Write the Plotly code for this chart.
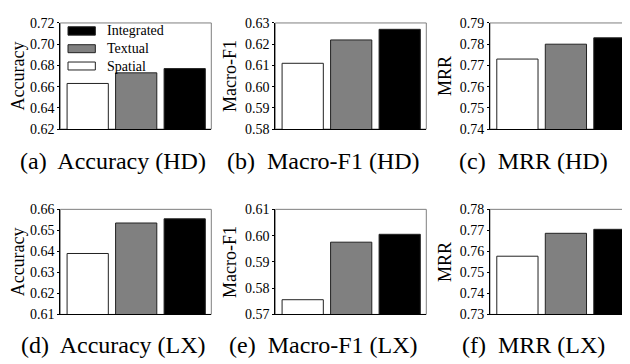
import plotly.graph_objects as go

methods = ["Spatial", "Textual", "Integrated"]
acc_hd = [0.663, 0.673, 0.677]
f1_hd = [0.611, 0.622, 0.627]
mrr_hd = [0.773, 0.780, 0.783]
acc_lx = [0.639, 0.6535, 0.6555]
f1_lx = [0.5756, 0.5975, 0.6005]
mrr_lx = [0.7577, 0.7686, 0.7705]

panels = [
    (acc_hd, "Accuracy", [0.62, 0.72], 0.02, "(a)  Accuracy (HD)"),
    (f1_hd, "Macro-F1", [0.58, 0.63], 0.01, "(b)  Macro-F1 (HD)"),
    (mrr_hd, "MRR", [0.74, 0.79], 0.01, "(c)  MRR (HD)"),
    (acc_lx, "Accuracy", [0.61, 0.66], 0.01, "(d)  Accuracy (LX)"),
    (f1_lx, "Macro-F1", [0.57, 0.61], 0.01, "(e)  Macro-F1 (LX)"),
    (mrr_lx, "MRR", [0.73, 0.78], 0.01, "(f)  MRR (LX)"),
]
colors = ["#ffffff", "#808080", "#000000"]

W, H = 630, 364
FONT = "Liberation Serif"
col_x = [(52.3, 203.3), (267.3, 418.3), (482.0, 630.0)]
row_y = [(8.3, 119.0), (202.7, 312.3)]
cap_y = [152.5, 344.0]
col_center = [105.0, 315.0, 525.0]
px_per_unit = 48.5
x0 = -0.565

fig = go.Figure()
layout = dict(
    width=W, height=H, margin=dict(l=0, r=0, t=0, b=0),
    paper_bgcolor="white", plot_bgcolor="white", showlegend=False,
    font=dict(family=FONT, color="black", size=13),
)
annotations = []
shapes = []

for i, (vals, title, yr, dt, cap) in enumerate(panels):
    r, c = divmod(i, 3)
    n = i + 1
    xs = "" if n == 1 else str(n)
    xl, xr = col_x[c]
    yt, yb = row_y[r]
    fig.add_trace(go.Bar(
        x=methods, y=vals, width=0.85,
        marker=dict(color=colors, line=dict(color="#222222", width=1)),
        xaxis="x" + xs, yaxis="y" + xs, name=title,
    ))
    layout["xaxis" + xs] = dict(
        domain=[xl / W, xr / W], anchor="y" + xs,
        range=[x0, x0 + (xr - xl) / px_per_unit],
        showticklabels=False, ticks="", showgrid=False, zeroline=False,
        showline=True, linecolor="black", linewidth=1,
        categoryorder="array", categoryarray=methods,
    )
    layout["yaxis" + xs] = dict(
        domain=[1 - yb / H, 1 - yt / H], anchor="x" + xs,
        range=yr, dtick=dt, tick0=yr[0], tickformat=".2f",
        ticks="outside", ticklen=2, tickcolor="black",
        showgrid=False, zeroline=False,
        showline=True, linecolor="black", linewidth=1,
        tickfont=dict(family=FONT, size=14, color="black"),
        title=dict(text=title, font=dict(family=FONT, size=18, color="black"), standoff=3),
    )
    shapes.append(dict(
        type="rect", xref="x" + xs + " domain", yref="y" + xs + " domain",
        x0=0, x1=1, y0=0, y1=1, line=dict(color="#7f7f7f", width=1),
        fillcolor="rgba(0,0,0,0)", layer="below",
    ))
    annotations.append(dict(
        text=cap, xref="paper", yref="paper", x=col_center[c] / W,
        y=1 - cap_y[r] / H, xanchor="center", yanchor="middle",
        showarrow=False, font=dict(family=FONT, size=24, color="black"),
    ))

leg_items = [("Integrated", "#000000", 0.964, 0.885, 0.925),
             ("Textual", "#808080", 0.795, 0.720, 0.758),
             ("Spatial", "#ffffff", 0.632, 0.557, 0.594)]
for name, colr, ytop, ybot, ymid in leg_items:
    shapes.append(dict(
        type="rect", xref="x domain", yref="y domain",
        x0=0.051, x1=0.232, y0=ybot, y1=ytop,
        fillcolor=colr, line=dict(color="#222222", width=1),
    ))
    annotations.append(dict(
        text=name, xref="x domain", yref="y domain", x=0.294, y=ymid,
        xanchor="left", yanchor="middle", showarrow=False,
        font=dict(family=FONT, size=14, color="black"),
    ))

layout["annotations"] = annotations
layout["shapes"] = shapes
fig.update_layout(**layout)
fig.write_html("out.html")
